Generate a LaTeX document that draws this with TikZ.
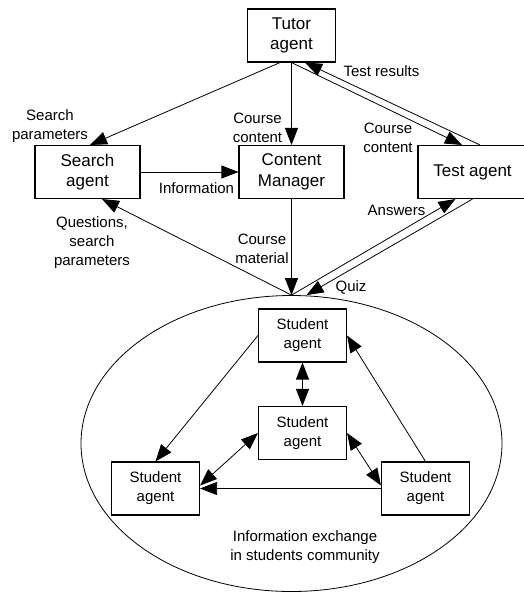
\documentclass[tikz,border=0pt]{standalone}
\usepackage{fontspec}
\setmainfont{Liberation Sans}
\usetikzlibrary{arrows.meta,positioning,shapes.geometric}

\begin{document}
\begin{tikzpicture}[
    x=1pt, y=-1pt,
    ->,
    >={Triangle[length=17pt,width=13pt]},
    line width=0.8pt,
    node distance=136.5pt,
    box/.style={draw, line width=1.1pt, rectangle, align=center, minimum height=53pt,
        inner sep=2pt, font=\fontsize{17}{20.5}\selectfont},
    student/.style={box, minimum width=88pt, font=\fontsize{15}{19}\selectfont},
    lbl/.style={align=center, font=\fontsize{15}{19}\selectfont}
]
    \useasboundingbox (0,0) rectangle (523,592);

    % agents of the tutoring system
	\node[box, minimum width=88pt] (Tutor) at (291.5,35.5) {Tutor\\agent};
	\node[box, minimum width=105pt] (Content) [below of=Tutor] {Content\\Manager};
	\node[box, minimum width=105pt] (Search) [left of=Content, node distance=204pt] {Search\\agent};
	\node[box, minimum width=109pt] (Test) [right of=Content, node distance=181pt] {Test agent};
	\node[ellipse, draw, inner sep=0pt, minimum width=421pt, minimum height=296pt]
        (Community) [below of=Content, node distance=271.5pt] {};

    % students community
	\node[student] (Top) at (302.5,335.5) {Student\\agent};
	\node[student] (Mid) [below of=Top, node distance=97.5pt] {Student\\agent};
	\node[student] (Left) [below of=Mid, node distance=55.5pt, xshift=-147pt] {Student\\agent};
	\node[student] (Right) [below of=Mid, node distance=55.5pt, xshift=123pt] {Student\\agent};

	\path[->]
		([xshift=-11.5pt]Tutor.south) edge ([xshift=2.5pt]Search.north)
		(Tutor.south) edge (Content.north)
		(Tutor.south) edge ([xshift=-10.5pt]Test.north)
		([xshift=7.5pt]Test.north) edge ([xshift=13.5pt]Tutor.south)
		(Search.east) edge (Content.west)
		(Community.north) edge ([xshift=14.5pt]Search.south)
		(Content.south) edge (Community.north)
		(Community.north) edge ([xshift=-17pt]Test.south)
		(Test.south) edge ([xshift=15pt]Community.north)
		(Top.west) edge (Left.north)
		(Top.south) edge [<->] (Mid.north)
		(Mid.west) edge [<->] ([yshift=3pt]Left.east)
		(Mid.east) edge [<->] ([yshift=3pt]Right.west)
		(Right.north) edge (Top.east)
		(Right.west) edge (Left.east);

    % message labels
	\node[lbl] (SearchPar) at (50,126.5) {Search\\parameters};
	\node[lbl] (CourseCon) at (257.5,128) {Course\\content};
	\node[lbl] (TestRes) at (381.5,71) {Test results};
	\node[lbl] (TestCon) at (388,137.5) {Course\\content};
	\node[lbl] (Info) at (196.5,188) {Information};
	\node[lbl] (Questions) at (92,243) {Questions,\\search\\parameters};
	\node[lbl] (Material) at (262,249) {Course\\material};
	\node[lbl] (Answers) at (396.5,210) {Answers};
	\node[lbl] (Quiz) at (351,287) {Quiz};
	\node[lbl] (Exchange) at (305,547.5) {Information exchange\\in students community};
\end{tikzpicture}
\end{document}
